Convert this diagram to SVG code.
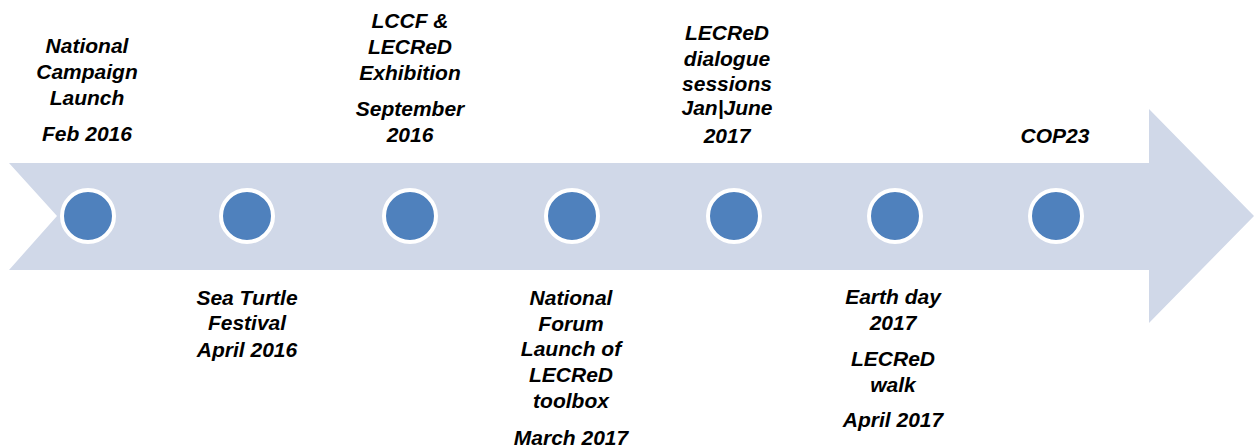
<svg xmlns="http://www.w3.org/2000/svg" width="1254" height="448" viewBox="0 0 1254 448">
  <style>
    .lbl { font-family: "Liberation Sans", Arial, sans-serif; font-weight: bold; font-style: italic; font-size: 21px; fill: #000; text-anchor: middle; }
    .dot { fill: #4F81BD; stroke: #FFFFFF; stroke-width: 4; }
  </style>
  <rect width="1254" height="448" fill="#FFFFFF"/>
  <g id="connectors">
    <path id="timeline-arrow" d="M9,163 L1149,163 L1149,109 L1254,216 L1149,323 L1149,270 L9,270 L57,216 Z" fill="#D0D8E8"/>
  </g>
  <g id="n1">
    <circle class="dot" cx="88" cy="216" r="26"/>
    <text class="lbl" x="87" y="53">National</text>
    <text class="lbl" x="87" y="79">Campaign</text>
    <text class="lbl" x="87" y="105">Launch</text>
    <text class="lbl" x="87" y="141">Feb 2016</text>
  </g>
  <g id="n2">
    <circle class="dot" cx="247" cy="216" r="26"/>
    <text class="lbl" x="247" y="305">Sea Turtle</text>
    <text class="lbl" x="247" y="330">Festival</text>
    <text class="lbl" x="247" y="357">April 2016</text>
  </g>
  <g id="n3">
    <circle class="dot" cx="410" cy="216" r="26"/>
    <text class="lbl" x="410" y="28">LCCF &amp;</text>
    <text class="lbl" x="410" y="54">LECReD</text>
    <text class="lbl" x="410" y="80">Exhibition</text>
    <text class="lbl" x="410" y="116">September</text>
    <text class="lbl" x="410" y="142">2016</text>
  </g>
  <g id="n4">
    <circle class="dot" cx="572" cy="216" r="26"/>
    <text class="lbl" x="571" y="305">National</text>
    <text class="lbl" x="571" y="331">Forum</text>
    <text class="lbl" x="571" y="356">Launch of</text>
    <text class="lbl" x="571" y="382">LECReD</text>
    <text class="lbl" x="571" y="408">toolbox</text>
    <text class="lbl" x="571" y="445">March 2017</text>
  </g>
  <g id="n5">
    <circle class="dot" cx="734" cy="216" r="26"/>
    <text class="lbl" x="727" y="40">LECReD</text>
    <text class="lbl" x="727" y="66">dialogue</text>
    <text class="lbl" x="727" y="91">sessions</text>
    <text class="lbl" x="727" y="115">Jan|June</text>
    <text class="lbl" x="727" y="143">2017</text>
  </g>
  <g id="n6">
    <circle class="dot" cx="895" cy="216" r="26"/>
    <text class="lbl" x="893" y="304">Earth day</text>
    <text class="lbl" x="893" y="330">2017</text>
    <text class="lbl" x="893" y="366">LECReD</text>
    <text class="lbl" x="893" y="392">walk</text>
    <text class="lbl" x="893" y="427">April 2017</text>
  </g>
  <g id="n7">
    <circle class="dot" cx="1056" cy="216" r="26"/>
    <text class="lbl" x="1055" y="143">COP23</text>
  </g>
</svg>
